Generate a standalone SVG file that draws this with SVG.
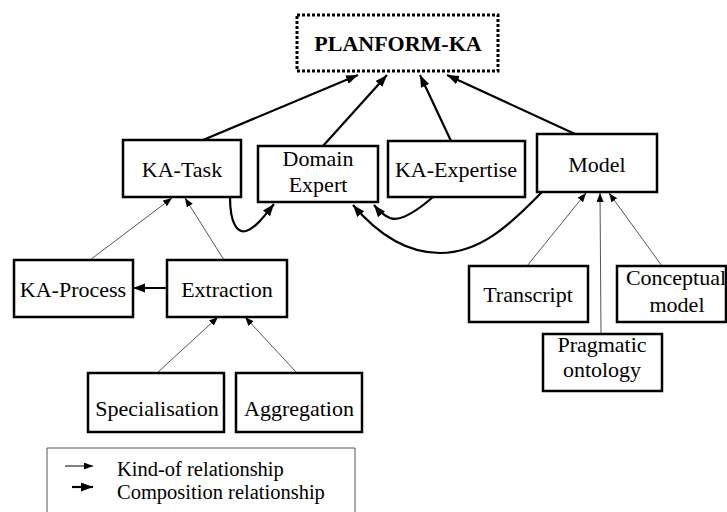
<svg xmlns="http://www.w3.org/2000/svg" width="727" height="512" viewBox="0 0 727 512">
<style>
.box{fill:#fff;stroke:#000;stroke-width:2.5}
.t{font-family:'Liberation Serif','Times New Roman','DejaVu Serif',serif;font-size:22px;fill:#000;text-anchor:middle}
.lt{font-family:'Liberation Serif','Times New Roman','DejaVu Serif',serif;font-size:20.5px;fill:#000}
.thick{fill:none;stroke:#000;stroke-width:2.2;marker-end:url(#ah)}
.thin{fill:none;stroke:#555;stroke-width:1;marker-end:url(#as)}
</style>
<defs>
<marker id="ah" markerUnits="userSpaceOnUse" markerWidth="13" markerHeight="10" refX="12" refY="4.5" orient="auto"><path d="M0,0 L12,4.5 L0,9 z" fill="#000"/></marker>
<marker id="as" markerUnits="userSpaceOnUse" markerWidth="10" markerHeight="8" refX="9" refY="3.5" orient="auto"><path d="M0,0 L9,3.5 L0,7 z" fill="#000"/></marker>
</defs>
<rect width="727" height="512" fill="#fff"/>
<g id="connectors">
<path class="thick" d="M203,140 L358,75"/>
<path class="thick" d="M323,146 L387,75"/>
<path class="thick" d="M451,141 L420,75"/>
<path class="thick" d="M575,134 L447,75"/>
<path class="thick" d="M230,197 C230,225 238,233 246,231 C256,228 266,214 274,204"/>
<path class="thick" d="M433,197 C418,210 400,222 390,218 C383,215 378,210 374,205"/>
<path class="thick" d="M542,192 C510,225 480,253 440,253 C400,253 370,225 353,205"/>
<path class="thick" d="M167,288 L133,288"/>
<path class="thin" d="M90,260 L172,198"/>
<path class="thin" d="M224,260 L185,198"/>
<path class="thin" d="M157,373 L218,317"/>
<path class="thin" d="M297,373 L245,317"/>
<path class="thin" d="M527,266 L586,193"/>
<path class="thin" d="M601,334 L600,193"/>
<path class="thin" d="M662,266 L609,193"/>
</g>
<g id="planform-ka">
<rect x="297" y="15" width="201" height="56" fill="#fff" stroke="#000" stroke-width="3" stroke-dasharray="3 2"/>
<text class="t" x="398" y="51" font-weight="bold">PLANFORM-KA</text>
</g>
<g id="ka-task"><rect class="box" x="123" y="140" width="118" height="57"/><text class="t" x="182" y="177">KA-Task</text></g>
<g id="domain-expert"><rect class="box" x="258" y="146" width="120" height="56"/><text class="t" x="318" y="166">Domain</text><text class="t" x="318" y="192">Expert</text></g>
<g id="ka-expertise"><rect class="box" x="388" y="141" width="137" height="56"/><text class="t" x="456" y="177">KA-Expertise</text></g>
<g id="model"><rect class="box" x="537" y="134" width="120" height="58"/><text class="t" x="597" y="172">Model</text></g>
<g id="ka-process"><rect class="box" x="14" y="260" width="119" height="57"/><text class="t" x="73" y="297">KA-Process</text></g>
<g id="extraction"><rect class="box" x="167" y="260" width="120" height="57"/><text class="t" x="227" y="297">Extraction</text></g>
<g id="specialisation"><rect class="box" x="88" y="373" width="136" height="59"/><text class="t" x="157" y="416">Specialisation</text></g>
<g id="aggregation"><rect class="box" x="236" y="373" width="126" height="59"/><text class="t" x="299" y="416">Aggregation</text></g>
<g id="transcript"><rect class="box" x="469" y="266" width="119" height="56"/><text class="t" x="528" y="302">Transcript</text></g>
<g id="conceptual-model"><rect class="box" x="617" y="266" width="109" height="56"/><text class="t" x="676" y="285">Conceptual</text><text class="t" x="677" y="312">model</text></g>
<g id="pragmatic-ontology"><rect class="box" x="543" y="334" width="119" height="57"/><text class="t" x="602" y="352">Pragmatic</text><text class="t" x="602" y="377">ontology</text></g>
<g id="legend">
<path d="M47,512 L47,448 L355,448 L355,512" fill="none" stroke="#555" stroke-width="1"/>
<path d="M65,466 L93,466" stroke="#000" stroke-width="1" marker-end="url(#as)"/>
<path d="M72,487 L93,487" stroke="#000" stroke-width="2.2" marker-end="url(#ah)"/>
<text class="lt" x="117" y="476">Kind-of relationship</text>
<text class="lt" x="117" y="499">Composition relationship</text>
</g>
</svg>
